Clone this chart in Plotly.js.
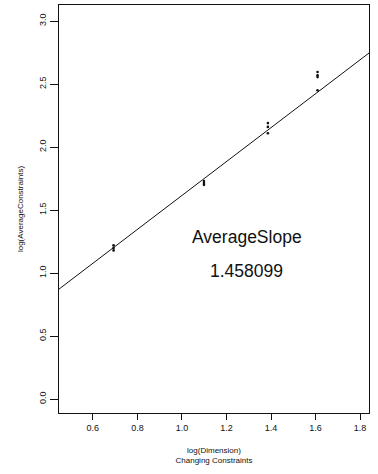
<!DOCTYPE html>
<html>
<head>
<meta charset="utf-8">
<script src="https://cdn.plot.ly/plotly-3.0.1.min.js"></script>
<style>html,body{margin:0;padding:0;background:#fff;}#chart{width:378px;height:474px;}</style>
</head>
<body>
<div id="chart"></div>
<script>
// Observed data: log(dimension) and log(average constraints)
const pointX = [0.693, 0.693, 0.693, 1.099, 1.099, 1.099, 1.386, 1.386, 1.386, 1.609, 1.609, 1.609, 1.609];
const pointY = [1.18, 1.20, 1.22, 1.70, 1.715, 1.73, 2.11, 2.16, 2.19, 2.45, 2.555, 2.57, 2.595];
// Fitted line end points
const fitX = [0.448, 1.84];
const fitY = [0.873, 2.746];
const annText1 = "AverageSlope";
const annText2 = "1.458099";
const xTicks = [0.6, 0.8, 1.0, 1.2, 1.4, 1.6, 1.8];
const xTickLabels = ["0.6", "0.8", "1.0", "1.2", "1.4", "1.6", "1.8"];
const yTicks = [0, 0.5, 1.0, 1.5, 2.0, 2.5, 3.0];
const yTickLabels = ["0.0", "0.5", "1.0", "1.5", "2.0", "2.5", "3.0"];

const font = "Liberation Sans, Arial, sans-serif";

Plotly.newPlot("chart", [
  {x: fitX, y: fitY, mode: "lines", line: {color: "#111", width: 1}, hoverinfo: "skip"},
  {x: pointX, y: pointY, mode: "markers", marker: {color: "#111", size: 2.6}}
], {
  width: 378, height: 474,
  margin: {l: 59, r: 9, t: 5, b: 61},
  showlegend: false,
  paper_bgcolor: "#fff", plot_bgcolor: "#fff",
  font: {family: font, color: "#111"},
  xaxis: {
    range: [0.448, 1.84], tickvals: xTicks, ticktext: xTickLabels,
    ticks: "outside", ticklen: 6, tickcolor: "#111", tickwidth: 1,
    showgrid: false, zeroline: false, showline: true, linecolor: "#111", linewidth: 1, mirror: true,
    tickfont: {size: 9, family: font, color: "#111"},
    title: {text: "log(Dimension)<br>Changing Constraints", font: {size: 8, family: font, color: "#111"}, standoff: 15}
  },
  yaxis: {
    range: [-0.11, 3.127], tickvals: yTicks, ticktext: yTickLabels,
    ticks: "outside", ticklen: 8, tickcolor: "#111", tickwidth: 1, tickangle: -90,
    showgrid: false, zeroline: false, showline: true, linecolor: "#111", linewidth: 1, mirror: true,
    tickfont: {size: 9, family: font, color: "#111"},
    title: {text: "log(AverageConstraints)", font: {size: 8, family: font, color: "#111"}, standoff: 13}
  },
  annotations: [
    {x: 1.29, y: 1.29, xref: "x", yref: "y", text: annText1, showarrow: false, font: {size: 17.5, family: font, color: "#111"}},
    {x: 1.29, y: 1.02, xref: "x", yref: "y", text: annText2, showarrow: false, font: {size: 17.5, family: font, color: "#111"}}
  ]
}, {displayModeBar: false, staticPlot: true});
</script>
</body>
</html>
